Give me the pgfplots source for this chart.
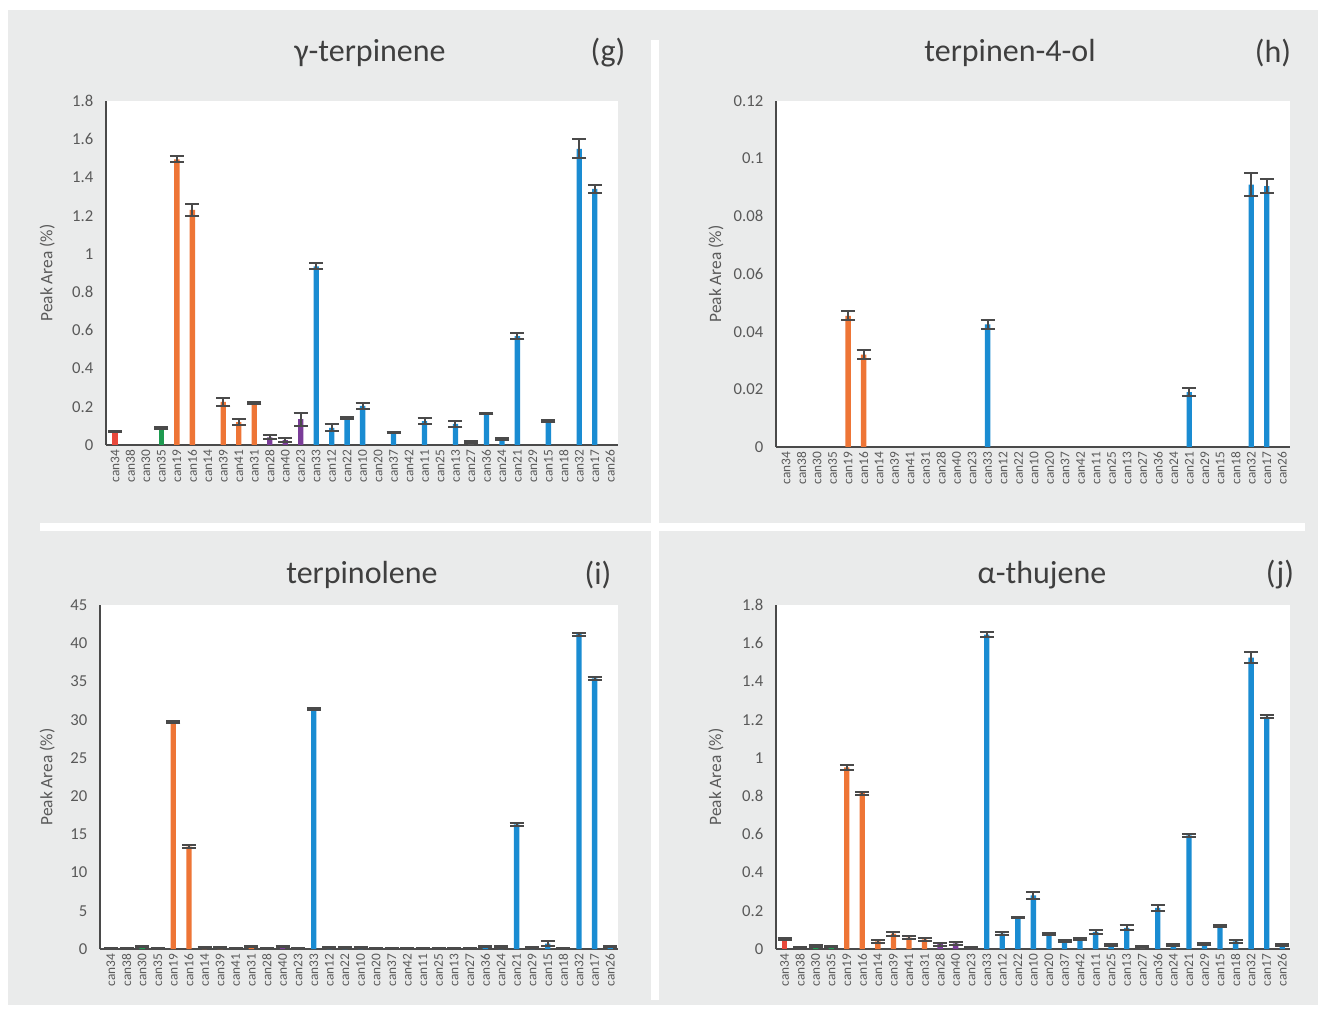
\documentclass[border=0pt]{standalone}
\usepackage{fontspec}
\setmainfont{Carlito}
\usepackage{pgfplots}
\pgfplotsset{compat=1.18}
\definecolor{bg}{HTML}{EAEBEB}
\definecolor{cblue}{HTML}{1A8CD2}
\definecolor{corange}{HTML}{EE7536}
\definecolor{cred}{HTML}{E8483B}
\definecolor{cgreen}{HTML}{1E9A50}
\definecolor{cpurple}{HTML}{7A3C98}
\definecolor{cgrey}{HTML}{555555}
\definecolor{ebc}{HTML}{4A4A4A}
\definecolor{txt}{HTML}{595959}
\definecolor{ttl}{HTML}{3F3F3F}
\pgfplotsset{
 panel/.style={scale only axis, ybar, bar width=4pt, xmin=-0.6, xmax=32.5, ymin=0,
  axis x line*=bottom, axis y line*=left,
  axis line style={-, line width=1.5pt, color=ebc},
  axis background/.style={fill=white},
  xtick={0,...,32},
  xticklabels={can34,can38,can30,can35,can19,can16,can14,can39,can41,can31,can28,can40,can23,can33,can12,can22,can10,can20,can37,can42,can11,can25,can13,can27,can36,can24,can21,can29,can15,can18,can32,can17,can26},
  x tick label style={rotate=90, anchor=east, font=\fontsize{10}{10}\selectfont, color=txt, yshift=0pt},
  y tick label style={font=\fontsize{12.5}{12.5}\selectfont, color=txt, xshift=-6pt},
  major tick length=0pt,
  ylabel={Peak Area (\%)},
  ylabel style={font=\fontsize{13}{13}\selectfont, color=txt, anchor=center, at={(axis description cs:-0.115,0.5)}},
  /pgf/number format/assume math mode=true,
  clip=false,
 },
 eb/.style={fill=#1, draw=none, bar shift=0pt, error bars/.cd, y dir=both, y explicit,
  error bar style={line width=1.5pt, color=ebc},
  error mark options={rotate=90, mark size=5.25pt, line width=1.5pt, color=ebc}},
}
\begin{document}
\begin{tikzpicture}
\fill[white] (0,0) rectangle (990pt,757.5pt);
\path[use as bounding box] (0,0) rectangle (990pt,757.5pt);
\fill[bg] (6pt,3.75pt) rectangle (988.5pt,750pt);
\fill[white] (488.6pt,7.5pt) rectangle (493.9pt,727.5pt);
\fill[white] (30pt,359.25pt) rectangle (978.75pt,365.25pt);

% ---------------- (g)
\begin{axis}[panel, at={(79.5pt,423.75pt)}, anchor=south west, width=384pt, height=258pt,
  xmin=-0.58, ymax=1.8, ytick={0,0.2,0.4,0.6,0.8,1,1.2,1.4,1.6,1.8},
  yticklabels={0,0.2,0.4,0.6,0.8,1,1.2,1.4,1.6,1.8}]
\addplot[eb=cred] table[row sep=\\, x=x, y=y, y error=e] {x y e\\ 0 0.07 0.004\\};
\addplot[eb=cgreen] table[row sep=\\, x=x, y=y, y error=e] {x y e\\ 3 0.09 0.004\\};
\addplot[eb=corange] table[row sep=\\, x=x, y=y, y error=e] {x y e\\ 4 1.495 0.015\\ 5 1.23 0.03\\ 7 0.225 0.02\\ 8 0.12 0.015\\ 9 0.22 0.004\\};
\addplot[eb=cpurple] table[row sep=\\, x=x, y=y, y error=e] {x y e\\ 10 0.04 0.01\\ 11 0.025 0.01\\ 12 0.135 0.035\\};
\addplot[eb=cblue] table[row sep=\\, x=x, y=y, y error=e] {x y e\\ 13 0.935 0.015\\ 14 0.09 0.018\\ 15 0.14 0.004\\ 16 0.205 0.015\\ 18 0.065 0.004\\ 20 0.125 0.015\\ 22 0.11 0.018\\ 24 0.165 0.005\\ 25 0.03 0.004\\ 26 0.57 0.015\\ 28 0.125 0.004\\ 30 1.55 0.05\\ 31 1.34 0.02\\};
\addplot[eb=cgrey] table[row sep=\\, x=x, y=y, y error=e] {x y e\\ 23 0.015 0.004\\};
\end{axis}

% ---------------- (h)
\begin{axis}[panel, at={(582pt,422.25pt)}, anchor=south west, width=385.5pt, height=259.5pt,
  xmin=-0.65, ymax=0.12, ytick={0,0.02,0.04,0.06,0.08,0.1,0.12},
  yticklabels={0,0.02,0.04,0.06,0.08,0.1,0.12},
  ylabel style={at={(axis description cs:-0.117,0.5)}}]
\addplot[eb=corange] table[row sep=\\, x=x, y=y, y error=e] {x y e\\ 4 0.0455 0.0015\\ 5 0.032 0.0015\\};
\addplot[eb=cblue] table[row sep=\\, x=x, y=y, y error=e] {x y e\\ 13 0.0425 0.0015\\ 26 0.019 0.0013\\ 30 0.091 0.004\\ 31 0.0905 0.0025\\};
\end{axis}

% ---------------- (i)
\begin{axis}[panel, at={(75pt,45.75pt)}, anchor=south west, width=388.5pt, height=258pt,
  xmin=-0.7, ymax=45, ytick={0,5,10,15,20,25,30,35,40,45},
  yticklabels={0,5,10,15,20,25,30,35,40,45},
  ylabel style={at={(axis description cs:-0.102,0.5)}}]
\addplot[eb=cred] table[row sep=\\, x=x, y=y, y error=e] {x y e\\ 0 0.08 0.04\\};
\addplot[eb=cgrey] table[row sep=\\, x=x, y=y, y error=e] {x y e\\ 1 0.05 0.03\\ 23 0.05 0.03\\};
\addplot[eb=cgreen] table[row sep=\\, x=x, y=y, y error=e] {x y e\\ 2 0.35 0.1\\ 3 0.05 0.03\\};
\addplot[eb=corange] table[row sep=\\, x=x, y=y, y error=e] {x y e\\ 4 29.7 0.15\\ 5 13.4 0.15\\ 6 0.15 0.05\\ 7 0.15 0.05\\ 8 0.1 0.05\\ 9 0.3 0.1\\};
\addplot[eb=cpurple] table[row sep=\\, x=x, y=y, y error=e] {x y e\\ 10 0.05 0.03\\ 11 0.3 0.1\\ 12 0.1 0.05\\};
\addplot[eb=cblue] table[row sep=\\, x=x, y=y, y error=e] {x y e\\ 13 31.4 0.15\\ 14 0.15 0.05\\ 15 0.2 0.05\\ 16 0.15 0.05\\ 17 0.1 0.05\\ 18 0.1 0.05\\ 19 0.1 0.05\\ 20 0.05 0.03\\ 21 0.05 0.03\\ 22 0.05 0.03\\ 24 0.3 0.1\\ 25 0.25 0.08\\ 26 16.3 0.15\\ 27 0.2 0.05\\ 28 0.7 0.3\\ 29 0.1 0.05\\ 30 41.2 0.2\\ 31 35.4 0.15\\ 32 0.3 0.08\\};
\end{axis}

% ---------------- (j)
\begin{axis}[panel, at={(582pt,45.75pt)}, anchor=south west, width=385.5pt, height=258pt,
  xmin=-0.55, ymax=1.8, ytick={0,0.2,0.4,0.6,0.8,1,1.2,1.4,1.6,1.8},
  yticklabels={0,0.2,0.4,0.6,0.8,1,1.2,1.4,1.6,1.8},
  ylabel style={at={(axis description cs:-0.117,0.5)}}]
\addplot[eb=cred] table[row sep=\\, x=x, y=y, y error=e] {x y e\\ 0 0.05 0.005\\};
\addplot[eb=cgrey] table[row sep=\\, x=x, y=y, y error=e] {x y e\\ 1 0.01 0.003\\ 23 0.015 0.003\\};
\addplot[eb=cgreen] table[row sep=\\, x=x, y=y, y error=e] {x y e\\ 2 0.015 0.004\\ 3 0.015 0.003\\};
\addplot[eb=corange] table[row sep=\\, x=x, y=y, y error=e] {x y e\\ 4 0.95 0.015\\ 5 0.815 0.008\\ 6 0.04 0.008\\ 7 0.08 0.01\\ 8 0.06 0.008\\ 9 0.05 0.008\\};
\addplot[eb=cpurple] table[row sep=\\, x=x, y=y, y error=e] {x y e\\ 10 0.025 0.008\\ 11 0.03 0.008\\ 12 0.01 0.003\\};
\addplot[eb=cblue] table[row sep=\\, x=x, y=y, y error=e] {x y e\\ 13 1.645 0.015\\ 14 0.08 0.008\\ 15 0.165 0.005\\ 16 0.28 0.02\\ 17 0.08 0.005\\ 18 0.04 0.005\\ 19 0.05 0.005\\ 20 0.09 0.012\\ 21 0.02 0.004\\ 22 0.11 0.013\\ 24 0.215 0.015\\ 25 0.02 0.004\\ 26 0.595 0.008\\ 27 0.025 0.004\\ 28 0.12 0.005\\ 29 0.04 0.008\\ 30 1.525 0.03\\ 31 1.215 0.008\\ 32 0.02 0.004\\};
\end{axis}

% titles
\node[font=\fontsize{24}{24}\selectfont, text=ttl] at (277.5pt,717.75pt) {γ-terpinene};
\node[font=\fontsize{24}{24}\selectfont, text=ttl] at (456pt,717.75pt) {(g)};
\node[font=\fontsize{24}{24}\selectfont, text=ttl] at (757.5pt,717.75pt) {terpinen-4-ol};
\node[font=\fontsize{24}{24}\selectfont, text=ttl] at (954.75pt,717.75pt) {(h)};
\node[font=\fontsize{24}{24}\selectfont, text=ttl] at (271.5pt,326.25pt) {terpinolene};
\node[font=\fontsize{24}{24}\selectfont, text=ttl] at (448.5pt,326.25pt) {(i)};
\node[font=\fontsize{24}{24}\selectfont, text=ttl] at (781.5pt,326.25pt) {α-thujene};
\node[font=\fontsize{24}{24}\selectfont, text=ttl] at (960pt,326.25pt) {(j)};
\end{tikzpicture}
\end{document}
